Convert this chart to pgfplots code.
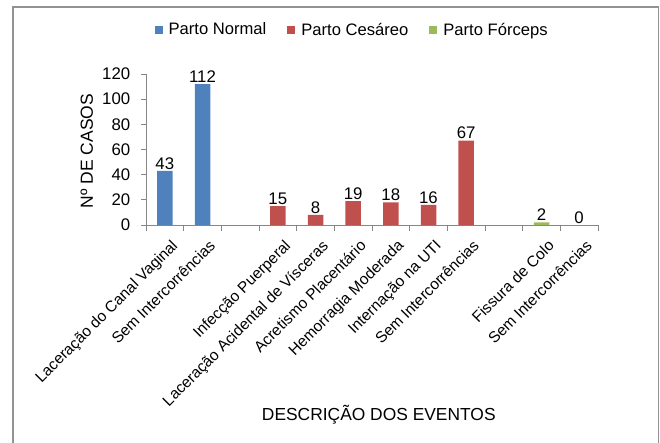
\documentclass[border=0pt]{standalone}
\usepackage{pgfplots}
\pgfplotsset{compat=1.18}
\usepackage{fontspec}
\setmainfont{Liberation Sans}
\definecolor{cblue}{HTML}{4F81BD}
\definecolor{cred}{HTML}{C0504D}
\definecolor{cgreen}{HTML}{9BBB59}
\definecolor{axgray}{HTML}{868686}
\begin{document}
\fontsize{16.8bp}{20bp}\selectfont
\begin{tikzpicture}
\useasboundingbox (0,0) rectangle (660bp,-443bp);
\draw[color=axgray!90, line width=1.5bp] (13bp,-460bp) -- (13bp,-7bp) -- (658.5bp,-7bp) -- (658.5bp,-460bp);
\begin{axis}[
  at={(146bp,-225bp)}, anchor=south west,
  scale only axis, width=452bp, height=151bp,
  xmin=-0.5, xmax=11.5, ymin=0, ymax=120,
  ybar, bar width=15.5bp,
  axis x line*=bottom, axis y line*=left,
  axis line style={axgray, line width=0.8bp},
  x axis line style={-}, y axis line style={-},
  ytick={0,20,...,120},
  xtick={0,...,11},
  xticklabels={Laceração do Canal Vaginal, Sem Intercorrências, , Infecção Puerperal, Laceração Acidental de Vísceras, Acretismo Placentário, Hemorragia Moderada, Internação na UTI, Sem Intercorrências, , Fissura de Colo, Sem Intercorrências},
  x tick label style={rotate=45, anchor=north east, font=\fontsize{15.5bp}{18bp}\selectfont, inner sep=1bp, xshift=-1bp, yshift=-9bp},
  y tick label style={font=\fontsize{16.8bp}{20bp}\selectfont, xshift=-5bp},
  /pgf/number format/assume math mode=true,
  major x tick style={draw=none},
  minor xtick={-0.5,0.5,...,11.5},
  minor x tick style={axgray, line width=0.8bp},
  minor tick length=6bp,
  major y tick style={axgray, line width=0.8bp},
  major tick length=5bp,
  tick align=outside,
  ylabel={Nº DE CASOS},
  ylabel style={at={(axis description cs:-0.131,0.49)}, anchor=center, font=\fontsize{17.5bp}{20bp}\selectfont},
  xlabel={DESCRIÇÃO DOS EVENTOS},
  xlabel style={at={(axis description cs:0.515,-1.258)}, anchor=center, font=\fontsize{17.4bp}{20bp}\selectfont},
  nodes near coords,
  every node near coord/.append style={font=\fontsize{16.8bp}{20bp}\selectfont, text=black, inner sep=1.5bp},
  legend style={at={(0.456,1.29)}, anchor=center, legend columns=-1, draw=none, font=\fontsize{16.6bp}{20bp}\selectfont, /tikz/every even column/.append style={column sep=19bp}, /tikz/every odd column/.append style={column sep=4bp}},
  legend image code/.code={\fill[#1] (0bp,-4bp) rectangle (8bp,4bp);},
]
\addplot[fill=cblue, draw=none, bar shift=0pt] coordinates {(0,43) (1,112)};
\addlegendentry{Parto Normal}
\addplot[fill=cred, draw=none, bar shift=0pt] coordinates {(3,15) (4,8) (5,19) (6,18) (7,16) (8,67)};
\addlegendentry{Parto Cesáreo}
\addplot[fill=cgreen, draw=none, bar shift=0pt] coordinates {(10,2) (11,0)};
\addlegendentry{Parto Fórceps}
\end{axis}
\end{tikzpicture}
\end{document}
